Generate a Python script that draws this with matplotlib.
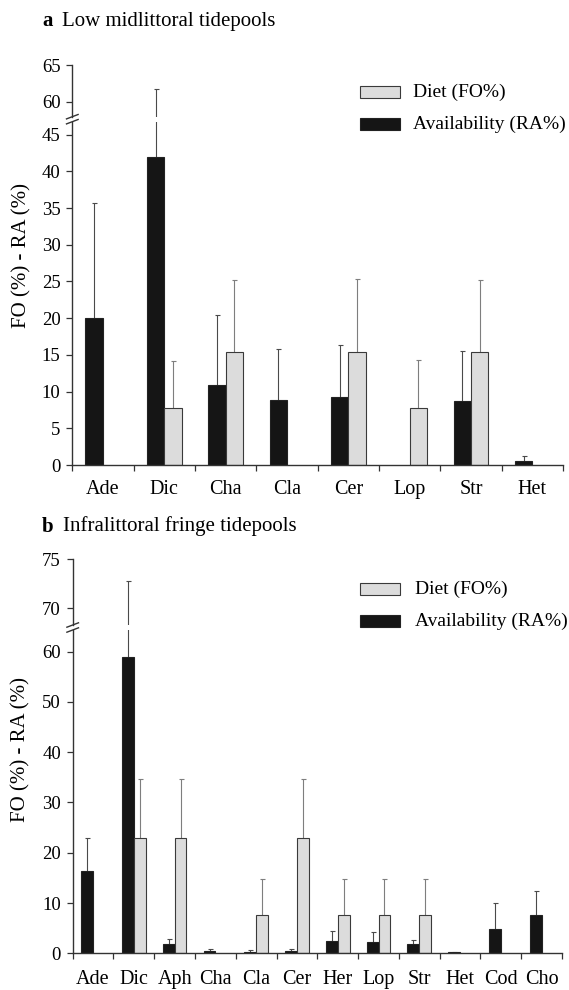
import numpy as np
import matplotlib
matplotlib.use("Agg")
import matplotlib.pyplot as plt
from matplotlib.lines import Line2D
from matplotlib.patches import Rectangle

nan = np.nan

# ---------------- data ----------------
cats_a = ['Ade', 'Dic', 'Cha', 'Cla', 'Cer', 'Lop', 'Str', 'Het']
ra_a = [20.0, 42.0, 10.9, 8.9, 9.2, nan, 8.7, 0.5]
ra_a_sd = [15.7, 19.7, 9.6, 6.9, 7.2, nan, 6.8, 0.7]
fo_a = [nan, 7.7, 15.4, nan, 15.4, 7.7, 15.4, nan]
fo_a_sd = [nan, 6.5, 9.8, nan, 9.9, 6.6, 9.8, nan]

cats_b = ['Ade', 'Dic', 'Aph', 'Cha', 'Cla', 'Cer', 'Her', 'Lop', 'Str', 'Het', 'Cod', 'Cho']
ra_b = [16.4, 59.0, 1.9, 0.5, 0.2, 0.5, 2.4, 2.3, 1.8, 0.2, 4.9, 7.6]
ra_b_sd = [6.6, 13.8, 0.9, 0.4, 0.4, 0.3, 2.0, 1.9, 0.8, 0.1, 5.1, 4.7]
fo_b = [nan, 23.0, 23.0, nan, 7.6, 23.0, 7.6, 7.6, 7.6, nan, nan, nan]
fo_b_sd = [nan, 11.6, 11.6, nan, 7.1, 11.6, 7.1, 7.1, 7.1, nan, nan, nan]

legend_labels = ['Diet (FO%)', 'Availability (RA%)']
ylabel = 'FO (%) - RA (%)'

# ---------------- style ----------------
plt.rcParams['font.family'] = ['Liberation Serif', 'DejaVu Serif']
W, H = 569, 990
fig = plt.figure(figsize=(W / 100, H / 100), dpi=100)

BLACK = '#151515'
GREY = '#dcdcdc'
SPINE = '#333333'


def px(x, y):
    return x / W, 1 - y / H


def draw_panel(ax_lo, ax_hi, cats, ra, ra_sd, fo, fo_sd, width,
               ylim_lo, ylim_hi, yt_lo, yt_hi, xlab_pad):
    x = np.arange(len(cats))
    ra = np.array(ra, float); ra_sd = np.array(ra_sd, float)
    fo = np.array(fo, float); fo_sd = np.array(fo_sd, float)
    for ax in (ax_lo, ax_hi):
        ax.bar(x - width / 2, ra, width, color=BLACK, edgecolor='#222222',
               linewidth=0.8, zorder=2)
        ax.bar(x + width / 2, fo, width, color=GREY, edgecolor='#3a3a3a',
               linewidth=0.8, zorder=2)
        for xs, v, sd, col in ((x - width / 2, ra, ra_sd, '#4a4a4a'),
                               (x + width / 2, fo, fo_sd, '#7e7e7e')):
            m = ~np.isnan(v) & ~np.isnan(sd)
            eb = ax.errorbar(xs[m], v[m], yerr=[np.zeros(m.sum()), sd[m]],
                             fmt='none', ecolor=col, elinewidth=0.8,
                             capsize=1.8, capthick=0.8, zorder=1)
            caps = eb[1]
            if len(caps) == 2:
                caps[0].set_visible(False)
        ax.set_xlim(-0.5, len(cats) - 0.5)
        ax.set_facecolor('none')
        for s in ('top', 'right'):
            ax.spines[s].set_visible(False)
        ax.spines['left'].set_color(SPINE)
        ax.spines['left'].set_linewidth(1.0)
        ax.tick_params(axis='y', direction='out', length=4, width=0.9,
                       color=SPINE, labelsize=13.5, pad=4.5)
    ax_lo.set_ylim(*ylim_lo)
    ax_hi.set_ylim(*ylim_hi)
    ax_lo.set_yticks(yt_lo)
    ax_hi.set_yticks(yt_hi)
    ax_hi.spines['bottom'].set_visible(False)
    ax_hi.set_xticks([])
    ax_lo.spines['bottom'].set_color(SPINE)
    ax_lo.spines['bottom'].set_linewidth(1.0)
    ax_lo.set_xticks(np.arange(len(cats) + 1) - 0.5)
    ax_lo.set_xticklabels([])
    ax_lo.tick_params(axis='x', which='major', direction='out', length=4.5,
                      width=0.9, color=SPINE)
    ax_lo.set_xticks(x, cats, minor=True)
    ax_lo.tick_params(axis='x', which='minor', length=0, labelsize=14.5,
                      pad=xlab_pad)


def break_marks(ax_lo, ax_hi):
    xl = ax_lo.get_position().x0 * W
    yb = (1 - ax_hi.get_position().y0) * H   # pixel y of upper axis bottom
    yt = (1 - ax_lo.get_position().y1) * H   # pixel y of lower axis top
    for yc in (yb, yt):
        x0, y0 = px(xl - 5.8, yc + 2.2)
        x1, y1 = px(xl + 5.8, yc - 2.2)
        fig.add_artist(Line2D([x0, x1], [y0, y1], color=SPINE, lw=1.0,
                              transform=fig.transFigure))


def legend(x_left, y_top1, y_top2, text_x):
    for (yt, fc, ec, lab) in ((y_top1, GREY, '#3a3a3a', legend_labels[0]),
                              (y_top2, BLACK, '#222222', legend_labels[1])):
        x0, y0 = px(x_left, yt + 12)
        fig.add_artist(Rectangle((x0, y0), 40 / W, 12 / H, facecolor=fc,
                                 edgecolor=ec, lw=0.8,
                                 transform=fig.transFigure))
        tx, ty = px(text_x, yt + 6)
        fig.text(tx, ty, lab, fontsize=14, va='center', ha='left')


# ---------------- panel a ----------------
ax_a_lo = fig.add_axes([72.3 / W, 1 - 465 / H, (563 - 72.3) / W, (465 - 121.7) / H])
ax_a_hi = fig.add_axes([72.3 / W, 1 - 116.7 / H, (563 - 72.3) / W, (116.7 - 65) / H])
draw_panel(ax_a_lo, ax_a_hi, cats_a, ra_a, ra_a_sd, fo_a, fo_a_sd, 0.285,
           (0, 46.77), (58, 65), np.arange(0, 46, 5), [60, 65], 11)
break_marks(ax_a_lo, ax_a_hi)
legend(360, 86, 118, 413)

fig.text(*px(42, 26), 'a', fontsize=15, fontweight='bold', va='baseline')
fig.text(*px(62, 26), 'Low midlittoral tidepools', fontsize=15, va='baseline')
fig.text(*px(22, 256), ylabel, fontsize=15, rotation=90, ha='center', va='center')

# ---------------- panel b ----------------
ax_b_lo = fig.add_axes([72.7 / W, 1 - 953.3 / H, (562 - 72.7) / W, (953.3 - 630) / H])
ax_b_hi = fig.add_axes([72.7 / W, 1 - 625 / H, (562 - 72.7) / W, (625 - 559) / H])
draw_panel(ax_b_lo, ax_b_hi, cats_b, ra_b, ra_b_sd, fo_b, fo_b_sd, 0.29,
           (0, 64.3), (68.27, 75), np.arange(0, 61, 10), [70, 75], 12)
break_marks(ax_b_lo, ax_b_hi)
legend(360, 583, 615, 415)

fig.text(*px(42, 531.5), 'b', fontsize=15, fontweight='bold', va='baseline')
fig.text(*px(63, 531.5), 'Infralittoral fringe tidepools', fontsize=15, va='baseline')
fig.text(*px(21, 750), ylabel, fontsize=15, rotation=90, ha='center', va='center')

fig.savefig('out.png', dpi=100)
